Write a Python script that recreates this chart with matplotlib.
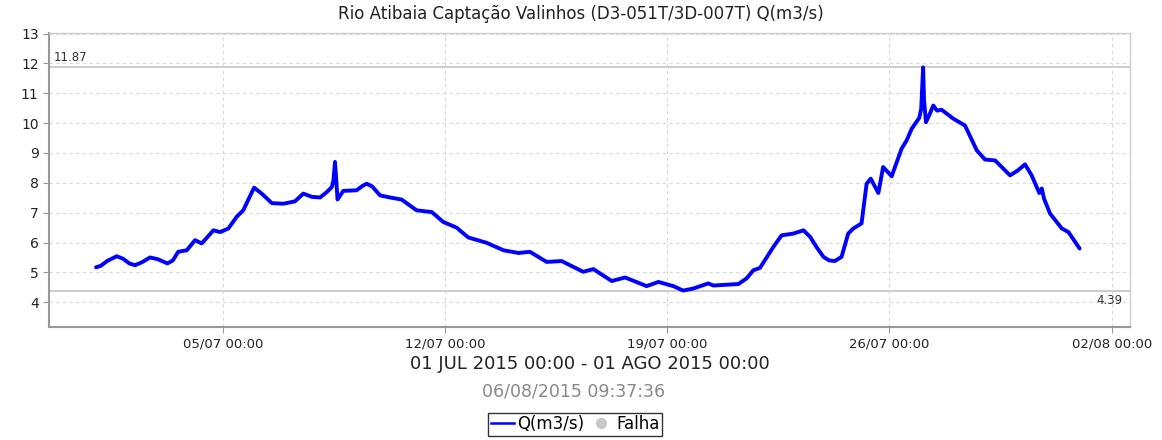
import pandas as pd
import matplotlib.pyplot as plt
import matplotlib.dates as mdates
from matplotlib.lines import Line2D

# Vazao (dias a partir de 01/07/2015 00:00, m3/s)
dias = [0.00, 0.15, 0.35, 0.65, 0.85, 1.05, 1.23, 1.45, 1.70, 1.95, 2.25, 2.42,
        2.59, 2.86, 3.12, 3.33, 3.70, 3.91, 4.17,
        4.43, 4.64, 4.85, 4.98, 5.22, 5.54, 5.90, 6.27, 6.53, 6.80, 7.06, 7.27, 7.43,
        7.48, 7.53, 7.56, 7.61, 7.79, 8.21, 8.40, 8.53, 8.70, 8.95, 9.26, 9.63,
        10.10, 10.58, 10.94, 11.36, 11.73, 12.31, 12.84, 13.31, 13.67, 14.20,
        14.67, 15.35, 15.67, 16.25, 16.67, 17.35, 17.72, 18.19, 18.50, 18.82,
        19.29, 19.45, 20.24, 20.50, 20.71, 20.92, 21.34, 21.60, 21.97, 22.29,
        22.50, 22.70, 22.92, 23.10, 23.28, 23.49, 23.70, 23.86, 24.12, 24.28,
        24.41, 24.65, 24.80, 25.07, 25.38, 25.54, 25.70, 25.94, 26.00, 26.06,
        26.09, 26.15, 26.27, 26.38, 26.50, 26.64, 27.01, 27.38, 27.75, 28.01,
        28.33, 28.80, 29.05, 29.27, 29.48, 29.72, 29.80, 29.87, 30.06, 30.43,
        30.64, 30.99]
vazao = [5.17, 5.22, 5.38, 5.54, 5.46, 5.30, 5.24, 5.34, 5.50, 5.44, 5.30, 5.40,
         5.69, 5.74, 6.08, 5.97, 6.41, 6.35, 6.47,
         6.86, 7.08, 7.55, 7.84, 7.64, 7.32, 7.30, 7.38, 7.64, 7.53, 7.51, 7.69, 7.86,
         8.08, 8.70, 8.25, 7.44, 7.73, 7.75, 7.90, 7.97, 7.88, 7.58, 7.51, 7.44,
         7.08, 7.02, 6.69, 6.50, 6.17, 5.99, 5.74, 5.65, 5.69, 5.35,
         5.38, 5.02, 5.11, 4.71, 4.83, 4.54, 4.68, 4.54, 4.39, 4.46,
         4.63, 4.56, 4.61, 4.80, 5.07, 5.15, 5.85, 6.24, 6.30, 6.41,
         6.19, 5.85, 5.52, 5.40, 5.38, 5.52, 6.30, 6.47, 6.64, 7.97,
         8.14, 7.66, 8.53, 8.22, 9.14, 9.42, 9.81, 10.18, 10.48, 11.87,
         10.76, 10.03, 10.31, 10.59, 10.42, 10.45, 10.15, 9.92, 9.09, 8.78,
         8.75, 8.25, 8.42, 8.62, 8.25, 7.66, 7.81, 7.47, 6.97, 6.47,
         6.35, 5.80]

inicio = pd.Timestamp("2015-07-01 00:00")
datas = inicio + pd.to_timedelta(dias, unit="D")
ticks_x = pd.to_datetime(["2015-07-05", "2015-07-12", "2015-07-19",
                          "2015-07-26", "2015-08-02"])

fig = plt.figure(figsize=(11.62, 4.4), dpi=100)
ax = fig.add_axes([0.0422, 0.2568, 0.9303, 0.6682])

# linhas de maximo e minimo
vmax = max(vazao)
vmin = min(vazao)
ax.axhline(vmax, color="#c8c8c8", lw=1.3, zorder=1)
ax.axhline(vmin, color="#c8c8c8", lw=1.3, zorder=1)
ax.text(0.004, vmax + 0.12, f"{vmax:.2f}", transform=ax.get_yaxis_transform(),
        fontsize=8.5, color="#333333", va="bottom", ha="left")
ax.text(0.993, vmin - 0.12, f"{vmin:.2f}", transform=ax.get_yaxis_transform(),
        fontsize=8.5, color="#333333", va="top", ha="right")

ax.plot(datas, vazao, color="#0000ff", lw=2.8, solid_joinstyle="round",
        solid_capstyle="round", zorder=3)

ax.set_xlim(inicio - pd.Timedelta(days=1.48), inicio + pd.Timedelta(days=32.58))
ax.set_ylim(3.17, 13.02)
ax.set_yticks(range(4, 14))
ax.set_xticks(ticks_x)
ax.xaxis.set_major_formatter(mdates.DateFormatter("%d/%m %H:%M"))

ax.grid(True, color="#d8d8d8", linestyle=(0, (3, 3)), lw=0.8)
ax.tick_params(axis="both", direction="out", length=4, color="#999999",
               labelcolor="#222222")
ax.tick_params(axis="y", labelsize=10)
ax.tick_params(axis="x", labelsize=9.5)
for lado in ["left", "bottom"]:
    ax.spines[lado].set_color("#999999")
    ax.spines[lado].set_linewidth(1.5)
for lado in ["top", "right"]:
    ax.spines[lado].set_color("#cccccc")
    ax.spines[lado].set_linewidth(1.0)

fig.text(0.5, 0.968, "Rio Atibaia Captação Valinhos (D3-051T/3D-007T) Q(m3/s)",
         ha="center", va="center", fontsize=12, color="#222222")
fig.text(0.508, 0.172, "01 JUL 2015 00:00 - 01 AGO 2015 00:00",
         ha="center", va="center", fontsize=13, color="#222222")
fig.text(0.494, 0.111, "06/08/2015 09:37:36",
         ha="center", va="center", fontsize=12.5, color="#888888")

handles = [Line2D([], [], color="#0000ff", lw=1.8),
           Line2D([], [], color="#c8c8c8", marker="o", ls="none", markersize=7)]
leg = fig.legend(handles, ["Q(m3/s)", "Falha"], loc="center",
                 bbox_to_anchor=(0.495, 0.036), ncol=2, fontsize=12,
                 frameon=True, fancybox=False, edgecolor="black",
                 handlelength=1.4, handletextpad=0.2, columnspacing=0.3,
                 borderpad=0.15, borderaxespad=0)
leg.get_frame().set_linewidth(1.0)

plt.savefig("out.png", dpi=100)
